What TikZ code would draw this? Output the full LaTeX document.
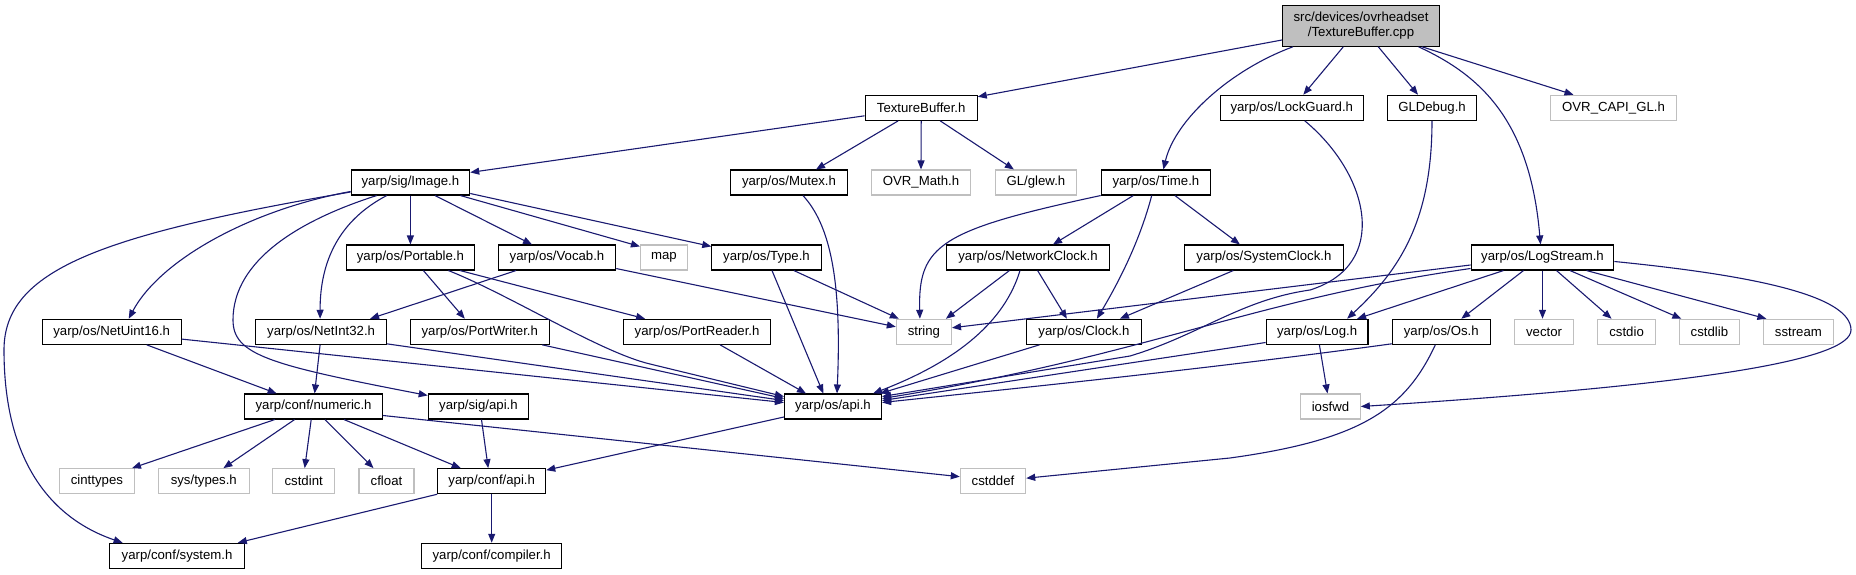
\documentclass[tikz,border=0pt]{standalone}
\usepackage{fontspec}
\newfontfamily\dfont{Liberation Sans}
\usetikzlibrary{arrows.meta}
\definecolor{edgec}{HTML}{191970}
\definecolor{misc}{HTML}{BFBFBF}
\definecolor{rootc}{HTML}{BFBFBF}
\begin{document}
\begin{tikzpicture}[x=1pt,y=-1pt,
  nd/.style={draw=black, line width=1.1pt, fill=white, minimum height=25pt, inner sep=0pt, font=\dfont\fontsize{13.2}{15}\selectfont},
  mis/.style={nd, draw=misc},
  dep/.style={draw=edgec, line width=1.1pt, -{Triangle[length=9pt,width=7pt]}},
]
\useasboundingbox (0,0) rectangle (1856,575);
% row 0
\node[nd, fill=rootc, minimum width=157pt, minimum height=40.5pt, align=center] (cpp) at (1361,26) {src/devices/ovrheadset\\/TextureBuffer.cpp};
% row 1
\node[nd, minimum width=112pt] (tbh) at (921.2,107.8) {TextureBuffer.h};
\node[nd, minimum width=143.2pt] (lockg) at (1291.8,107.8) {yarp/os/LockGuard.h};
\node[nd, minimum width=88.4pt] (gldbg) at (1432,107.8) {GLDebug.h};
\node[mis, minimum width=125.7pt] (ovrcapi) at (1613.5,107.8) {OVR\_CAPI\_GL.h};
% row 2
\node[nd, minimum width=118.6pt] (img) at (410.4,182.5) {yarp/sig/Image.h};
\node[nd, minimum width=116.7pt] (mutex) at (789,182.5) {yarp/os/Mutex.h};
\node[mis, minimum width=98.4pt] (ovrmath) at (921,182.5) {OVR\_Math.h};
\node[mis, minimum width=81.6pt] (glew) at (1035.9,182.5) {GL/glew.h};
\node[nd, minimum width=109.4pt] (time) at (1155.9,182.5) {yarp/os/Time.h};
% row 3
\node[nd, minimum width=128.1pt] (portable) at (410.4,257.5) {yarp/os/Portable.h};
\node[nd, minimum width=117.4pt] (vocab) at (557,257.5) {yarp/os/Vocab.h};
\node[mis, minimum width=46.9pt] (map) at (663.9,257.5) {map};
\node[nd, minimum width=109.4pt] (type) at (766.5,257.5) {yarp/os/Type.h};
\node[nd, minimum width=162.9pt] (netclk) at (1028,257.5) {yarp/os/NetworkClock.h};
\node[nd, minimum width=158.8pt] (sysclk) at (1263.9,257.5) {yarp/os/SystemClock.h};
\node[nd, minimum width=142.8pt] (logstream) at (1542.5,257.5) {yarp/os/LogStream.h};
% row 4
\node[nd, minimum width=138.8pt] (nu16) at (111.7,331.8) {yarp/os/NetUint16.h};
\node[nd, minimum width=130.5pt] (ni32) at (321.1,331.8) {yarp/os/NetInt32.h};
\node[nd, minimum width=138.8pt] (pwriter) at (479.8,331.8) {yarp/os/PortWriter.h};
\node[nd, minimum width=146.9pt] (preader) at (697.1,331.8) {yarp/os/PortReader.h};
\node[mis, minimum width=55.1pt] (string) at (923.9,331.8) {string};
\node[nd, minimum width=114.7pt] (clock) at (1083.9,331.8) {yarp/os/Clock.h};
\node[nd, minimum width=101.8pt] (log) at (1317.1,331.8) {yarp/os/Log.h};
\node[nd, minimum width=97.8pt] (os) at (1441.3,331.8) {yarp/os/Os.h};
\node[mis, minimum width=59.2pt] (vector) at (1544.1,331.8) {vector};
\node[mis, minimum width=58pt] (cstdio) at (1626.6,331.8) {cstdio};
\node[mis, minimum width=60.4pt] (cstdlib) at (1709.4,331.8) {cstdlib};
\node[mis, minimum width=69.8pt] (sstream) at (1798.4,331.8) {sstream};
% row 5
\node[nd, minimum width=137.6pt] (numeric) at (313.6,406.5) {yarp/conf/numeric.h};
\node[nd, minimum width=100.5pt] (sigapi) at (478.5,406.5) {yarp/sig/api.h};
\node[nd, minimum width=97.1pt] (osapi) at (833,406.5) {yarp/os/api.h};
\node[mis, minimum width=59.6pt] (iosfwd) at (1330.5,406.5) {iosfwd};
% row 6
\node[mis, minimum width=75.1pt] (cinttypes) at (96.9,481.2) {cinttypes};
\node[mis, minimum width=90.5pt] (systypes) at (203.8,481.2) {sys/types.h};
\node[mis, minimum width=61.7pt] (cstdint) at (303.7,481.2) {cstdint};
\node[mis, minimum width=55pt] (cfloat) at (386.5,481.2) {cfloat};
\node[nd, minimum width=108pt] (confapi) at (491.7,481.2) {yarp/conf/api.h};
\node[mis, minimum width=65.3pt] (cstddef) at (993,481.2) {cstddef};
% row 7
\node[nd, minimum width=134.4pt] (sys) at (177.1,555.8) {yarp/conf/system.h};
\node[nd, minimum width=139.6pt] (compiler) at (491.7,555.8) {yarp/conf/compiler.h};

% edges from root
\draw[dep] ([yshift=-14pt]cpp.west) -- ([yshift=-2pt]tbh.north east);
\draw[dep] ([xshift=11pt]cpp.south west) .. controls (1230,70) and (1175,120) .. ([xshift=7.5pt]time.north);
\draw[dep] ([xshift=-17.7pt]cpp.south) -- ([xshift=11.5pt]lockg.north);
\draw[dep] ([xshift=17.3pt]cpp.south) -- ([xshift=-14pt]gldbg.north);
\draw[dep] ([xshift=57.5pt]cpp.south) .. controls (1480,75) and (1530,120) .. ([xshift=-2pt]logstream.north);
\draw[dep] ([xshift=61pt]cpp.south) -- ([xshift=-40pt]ovrcapi.north);
% TextureBuffer.h
\draw[dep] ([yshift=-8pt]tbh.west) -- ([yshift=-3pt]img.north east);
\draw[dep] ([xshift=-23pt]tbh.south) -- ([xshift=27pt]mutex.north);
\draw[dep] (tbh.south) -- (ovrmath.north);
\draw[dep] ([xshift=19pt]tbh.south) -- ([xshift=-22pt]glew.north);
% Image.h
\draw[dep] (img.south) -- (portable.north);
\draw[dep] ([xshift=24.6pt]img.south) -- ([xshift=-25pt]vocab.north);
\draw[dep] ([xshift=50pt]img.south) -- ([yshift=-2pt]map.north west);
\draw[dep] ([yshift=-11pt]img.east) -- ([yshift=-2pt]type.north west);
\draw[dep] ([xshift=-23.7pt]img.south) .. controls (340,220) and (320,260) .. ([xshift=-1pt]ni32.north);
\draw[dep] ([xshift=-33.7pt]img.south) .. controls (300,220) and (233,260) .. (233,320) .. controls (233,355) and (270,365) .. ([yshift=-2pt]sigapi.north west);
\draw[dep] ([yshift=-9pt]img.west) .. controls (250,210) and (160,260) .. ([xshift=17pt]nu16.north);
\draw[dep] ([yshift=-9.5pt]img.west) .. controls (100,235) and (4,270) .. (4,350) .. controls (4,460) and (50,518) .. ([xshift=-54.5pt]sys.north);
% Portable.h
\draw[dep] ([xshift=13pt]portable.south) -- ([xshift=-15pt]pwriter.north);
\draw[dep] ([xshift=49.6pt]portable.south) -- ([xshift=-52pt]preader.north);
\draw[dep] ([xshift=38pt]portable.south) .. controls (510,295) and (600,352) .. (650,364) -- ([yshift=10pt]osapi.west);
% Vocab.h
\draw[dep] ([xshift=-41pt]vocab.south) -- ([xshift=49pt]ni32.north);
\draw[dep] ([yshift=2pt]vocab.south east) -- ([yshift=5pt]string.west);
% Type.h
\draw[dep] ([xshift=27.4pt]type.south) -- ([xshift=3pt]string.north west);
\draw[dep] ([xshift=5.5pt]type.south) -- ([xshift=-9.7pt]osapi.north);
% Mutex.h
\draw[dep] ([xshift=14pt]mutex.south) .. controls (830,225) and (842,280) .. ([xshift=4pt]osapi.north);
% Time.h
\draw[dep] (time.south west) .. controls (940,230) and (918,245) .. ([xshift=-4pt]string.north);
\draw[dep] ([xshift=-22.6pt]time.south) -- ([xshift=25pt]netclk.north);
\draw[dep] ([xshift=19pt]time.south) -- ([xshift=-24pt]sysclk.north);
\draw[dep] ([xshift=-4.2pt]time.south) .. controls (1140,240) and (1120,280) .. ([xshift=13pt]clock.north);
% NetworkClock.h
\draw[dep] ([xshift=-18.6pt]netclk.south) -- ([xshift=22pt]string.north);
\draw[dep] ([xshift=9.6pt]netclk.south) -- ([xshift=-17pt]clock.north);
\draw[dep] ([xshift=-8pt]netclk.south) .. controls (1005,320) and (960,360) .. ([xshift=-9pt]osapi.north east);
% SystemClock.h
\draw[dep] ([xshift=-30.6pt]sysclk.south) -- ([xshift=36pt]clock.north);
% Clock.h
\draw[dep] ([xshift=13.5pt]clock.south west) -- ([xshift=-2pt]osapi.north east);
% LockGuard.h
\draw[dep] ([xshift=13pt]lockg.south) .. controls (1370,175) and (1390,265) .. (1310,290) .. controls (1240,300) and (1200,335) .. (1130,356) -- ([yshift=10pt]osapi.east);
% GLDebug.h
\draw[dep] (gldbg.south) .. controls (1432,220) and (1400,270) .. ([xshift=30pt]log.north);
% LogStream.h
\draw[dep] ([yshift=-7.5pt]logstream.west) -- ([yshift=4pt]string.east);
\draw[dep] ([yshift=-11pt]logstream.west) .. controls (1250,300) and (1150,355) .. ([yshift=8pt]osapi.east);
\draw[dep] ([xshift=-39pt]logstream.south) -- ([xshift=40pt]log.north);
\draw[dep] ([xshift=-19pt]logstream.south) -- ([xshift=20pt]os.north);
\draw[dep] (logstream.south) -- (logstream.south |- vector.north);
\draw[dep] ([xshift=14pt]logstream.south) -- ([xshift=-15pt]cstdio.north);
\draw[dep] ([xshift=27.5pt]logstream.south) -- ([xshift=-28pt]cstdlib.north);
\draw[dep] ([xshift=44pt]logstream.south) -- ([xshift=-32pt]sstream.north);
\draw[dep] ([yshift=-4pt]logstream.east) .. controls (1750,275) and (1851,295) .. (1851,330) .. controls (1851,360) and (1700,385) .. (iosfwd.east);
% Log.h
\draw[dep] ([yshift=-10.7pt]log.west) -- ([yshift=6pt]osapi.east);
\draw[dep] ([xshift=2.3pt]log.south) -- ([xshift=-3pt]iosfwd.north);
% Os.h
\draw[dep] ([yshift=-12pt]os.west) .. controls (1200,370) and (1000,390) .. ([yshift=4pt]osapi.east);
\draw[dep] ([xshift=-6pt]os.south) .. controls (1405,410) and (1360,440) .. (1230,458) -- ([yshift=3pt]cstddef.east);
% PortWriter / PortReader
\draw[dep] ([xshift=-7.5pt]pwriter.south east) -- ([yshift=8pt]osapi.west);
\draw[dep] ([xshift=23pt]preader.south) -- ([xshift=-27pt]osapi.north);
% NetInt32 / NetUint16
\draw[dep] ([xshift=-1pt]ni32.south) -- ([xshift=1pt]numeric.north);
\draw[dep] ([yshift=1pt]ni32.south east) -- ([yshift=6pt]osapi.west);
\draw[dep] ([xshift=35pt]nu16.south) -- ([xshift=-37pt]numeric.north);
\draw[dep] ([yshift=-7.3pt]nu16.east) -- ([yshift=4pt]osapi.west);
% numeric.h
\draw[dep] ([xshift=-38.8pt]numeric.south) -- ([xshift=-3pt]cinttypes.north east);
\draw[dep] ([xshift=-19pt]numeric.south) -- ([xshift=19.6pt]systypes.north);
\draw[dep] ([xshift=-2.4pt]numeric.south) -- ([xshift=1pt]cstdint.north);
\draw[dep] ([xshift=11.4pt]numeric.south) -- ([xshift=-13pt]cfloat.north);
\draw[dep] ([xshift=30.4pt]numeric.south) -- ([xshift=-31pt]confapi.north);
\draw[dep] ([yshift=-9pt]numeric.east) -- ([yshift=4.5pt]cstddef.west);
% sig/api, os/api, conf/api
\draw[dep] ([xshift=3pt]sigapi.south) -- ([xshift=-3.5pt]confapi.north);
\draw[dep] ([yshift=-10.5pt]osapi.west) -- ([yshift=-2pt]confapi.north east);
\draw[dep] (confapi.south west) -- ([xshift=-7pt]sys.north east);
\draw[dep] (confapi.south) -- (compiler.north);
\end{tikzpicture}
\end{document}
